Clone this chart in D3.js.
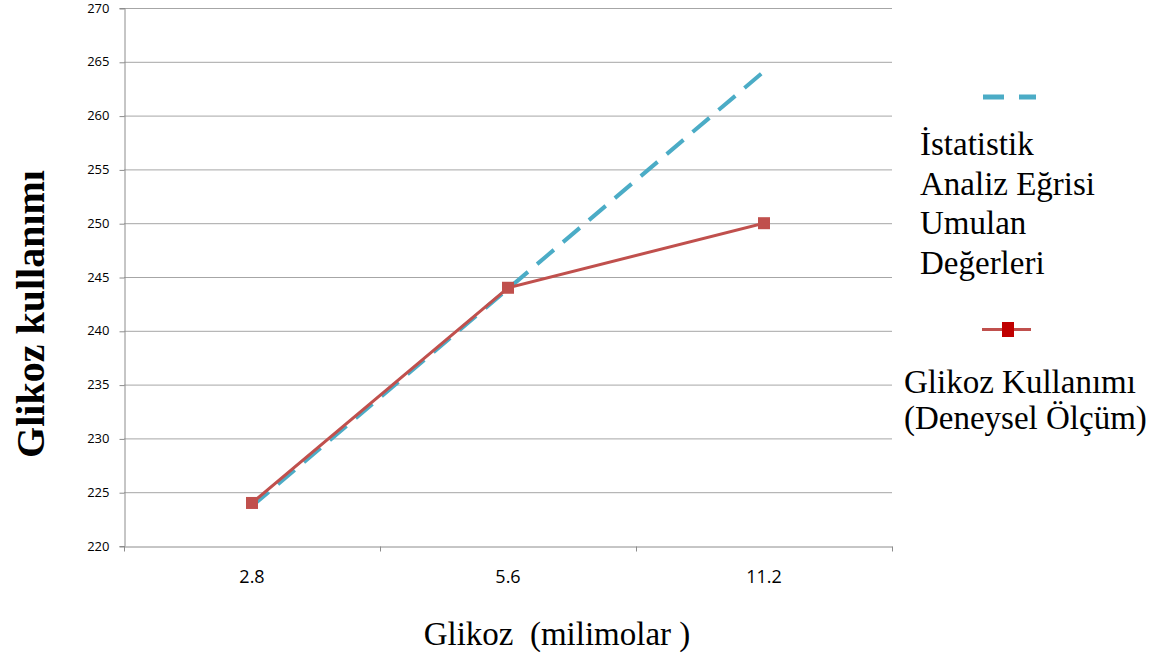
<!DOCTYPE html>
<html>
<head>
<meta charset="utf-8">
<script src="https://cdn.jsdelivr.net/npm/d3@7"></script>
<style>
  body { margin: 0; background: #fff; }
  svg { display: block; }
</style>
</head>
<body>
<svg id="chart"></svg>
<script>
//Chart data
var categories = ["2.8", "5.6", "11.2"];
var expectedValues = [223.7, 243.9, 264.1];
var measuredValues = [224, 244, 250];
var yTicks = [220, 225, 230, 235, 240, 245, 250, 255, 260, 265, 270];

var expectedLabel = ["İstatistik", "Analiz Eğrisi", "Umulan", "Değerleri"];
var measuredLabel = ["Glikoz Kullanımı", "(Deneysel Ölçüm)"];

//Dimensions
var dimensions = {
    width: 1151,
    height: 654,
    margin: { top: 8, right: 259, bottom: 108, left: 124 }
};

var svg = d3.select("#chart")
            .attr("width", dimensions.width)
            .attr("height", dimensions.height);

//Scales
var xScale = d3.scaleBand()
               .domain(categories)
               .range([dimensions.margin.left, dimensions.width - dimensions.margin.right]);

var yScale = d3.scaleLinear()
               .domain([220, 270])
               .range([dimensions.height - dimensions.margin.bottom, dimensions.margin.top]);

var xMid = function(i){ return xScale(categories[i]) + xScale.bandwidth() / 2; };

//Gridlines
svg.append("g")
   .selectAll("line")
   .data(yTicks.slice(1))
   .join("line")
   .attr("x1", dimensions.margin.left)
   .attr("x2", dimensions.width - dimensions.margin.right)
   .attr("y1", function(d){ return yScale(d) + 0.5; })
   .attr("y2", function(d){ return yScale(d) + 0.5; })
   .style("stroke", "#a6a6a6")
   .style("stroke-width", 1);

//Y-axis
var yAxis = svg.append("g")
               .attr("transform", "translate(" + (dimensions.margin.left + 0.5) + ",0)")
               .call(d3.axisLeft(yScale).tickValues(yTicks).tickSize(5).tickPadding(10));
yAxis.select(".domain").style("stroke", "#8c8c8c");
yAxis.selectAll(".tick line").style("stroke", "#8c8c8c").attr("transform", "translate(0,0.5)");
yAxis.selectAll("text")
     .style("font-family", "'Open Sans', sans-serif")
     .style("font-size", "13px")
     .style("fill", "#000");

//X-axis
var xAxisGen = d3.axisBottom(xScale).tickSize(0).tickPadding(24);
var xAxis = svg.append("g")
               .attr("transform", "translate(0," + (yScale(220) + 0.5) + ")")
               .call(xAxisGen);
xAxis.select(".domain").style("stroke", "#8c8c8c");
xAxis.selectAll("text")
     .style("font-family", "'Open Sans', sans-serif")
     .style("font-size", "18px")
     .style("fill", "#000");

//Category boundary ticks
var bounds = categories.map(function(c){ return xScale(c); });
bounds.push(xScale(categories[categories.length - 1]) + xScale.bandwidth());
xAxis.selectAll(".btick")
     .data(bounds)
     .join("line")
     .attr("class", "btick")
     .attr("x1", function(d){ return d + 0.5; })
     .attr("x2", function(d){ return d + 0.5; })
     .attr("y1", 0)
     .attr("y2", 5)
     .style("stroke", "#8c8c8c");

//Lines
var line = d3.line()
             .x(function(d, i){ return xMid(i); })
             .y(function(d){ return yScale(d); });

svg.append("path")
   .datum(expectedValues)
   .attr("d", line)
   .style("fill", "none")
   .style("stroke", "#4bacc6")
   .style("stroke-width", 4)
   .style("stroke-dasharray", "22,12");

svg.append("path")
   .datum(measuredValues)
   .attr("d", line)
   .style("fill", "none")
   .style("stroke", "#c0504d")
   .style("stroke-width", 3);

svg.append("g")
   .selectAll("rect")
   .data(measuredValues)
   .join("rect")
   .attr("x", function(d, i){ return xMid(i) - 6; })
   .attr("y", function(d){ return yScale(d) - 6; })
   .attr("width", 12)
   .attr("height", 12)
   .style("fill", "#c0504d");

//Y-axis title
svg.append("text")
   .attr("transform", "rotate(-90)")
   .attr("x", -314)
   .attr("y", 44)
   .attr("text-anchor", "middle")
   .style("font-family", "'Liberation Serif', serif")
   .style("font-weight", "bold")
   .style("font-size", "40px")
   .text("Glikoz kullanımı");

//X-axis title
svg.append("text")
   .attr("x", 557)
   .attr("y", 645)
   .attr("text-anchor", "middle")
   .style("font-family", "'Liberation Serif', serif")
   .style("font-size", "33px")
   .style("white-space", "pre")
   .text("Glikoz  (milimolar )");

//Legend
var legend = svg.append("g");

legend.append("line")
      .attr("x1", 983).attr("x2", 1036)
      .attr("y1", 97).attr("y2", 97)
      .style("stroke", "#4bacc6")
      .style("stroke-width", 5)
      .style("stroke-dasharray", "21,15");

legend.selectAll(".exp")
      .data(expectedLabel)
      .join("text")
      .attr("class", "exp")
      .attr("x", 920)
      .attr("y", function(d, i){ return 155 + i * 39.5; })
      .style("font-family", "'Liberation Serif', serif")
      .style("font-size", "33px")
      .text(function(d){ return d; });

legend.append("line")
      .attr("x1", 982).attr("x2", 1031)
      .attr("y1", 329.5).attr("y2", 329.5)
      .style("stroke", "#c0504d")
      .style("stroke-width", 3);

legend.append("rect")
      .attr("x", 1002).attr("y", 322)
      .attr("width", 12).attr("height", 15)
      .style("fill", "#c00000");

legend.selectAll(".meas")
      .data(measuredLabel)
      .join("text")
      .attr("class", "meas")
      .attr("x", 904)
      .attr("y", function(d, i){ return 393 + i * 36; })
      .style("font-family", "'Liberation Serif', serif")
      .style("font-size", "33px")
      .text(function(d){ return d; });
</script>
</body>
</html>
